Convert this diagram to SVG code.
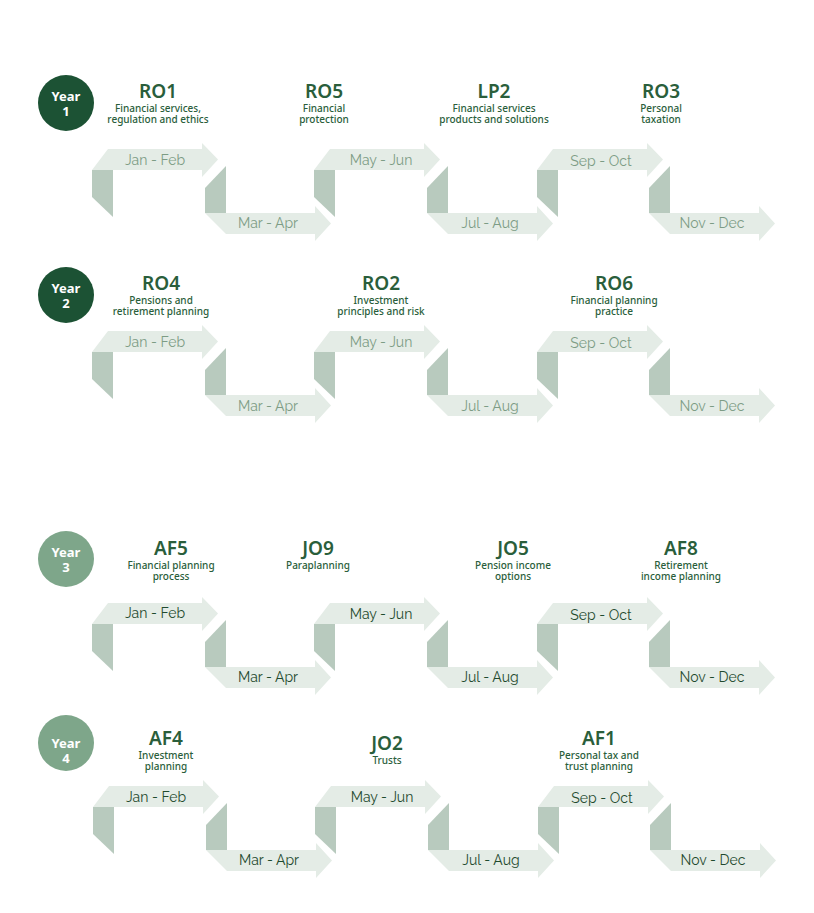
<svg xmlns="http://www.w3.org/2000/svg" xmlns:xlink="http://www.w3.org/1999/xlink" width="814" height="913" viewBox="0 0 814 913">
<style>
.band{fill:#e4ece6}.dark{fill:#b8cabe}
.lbl{font-family:Raleway,"Noto Sans","Liberation Sans",sans-serif;font-size:14px;text-anchor:middle}
.l1{fill:#7d9c85}.l2{fill:#1f4a2e}
.code{font-family:"Noto Sans","Liberation Sans",sans-serif;font-size:19px;font-weight:600;fill:#2a5e3b;text-anchor:middle}
.sub{font-family:"Noto Sans","Liberation Sans",sans-serif;font-size:10px;font-weight:500;fill:#2a5e3b;text-anchor:middle}
.yr{font-family:"Noto Sans","Liberation Sans",sans-serif;font-size:13px;font-weight:700;fill:#fff;text-anchor:middle}
</style>
<defs>
<g id="up"><polygon class="band" points="0,21 16,0 110,0 110,-6 126,10.5 110,28 110,21"/><polygon class="dark" points="0,21 21,21 21,68 0,48"/></g>
<g id="dn"><polygon class="dark" points="0,-25 21,-47 21,0 0,0"/><polygon class="band" points="0,0 110,0 110,-7 126,10.5 110,28 110,21 21,21"/></g>
</defs>
<g id="connectors">
<use href="#up" x="92" y="149"/><use href="#dn" x="205" y="213"/><use href="#up" x="314" y="149"/><use href="#dn" x="427" y="213"/><use href="#up" x="537" y="149"/><use href="#dn" x="649" y="213"/>
<use href="#up" x="92" y="331"/><use href="#dn" x="205" y="395"/><use href="#up" x="314" y="331"/><use href="#dn" x="427" y="395"/><use href="#up" x="537" y="331"/><use href="#dn" x="649" y="395"/>
<use href="#up" x="92" y="603"/><use href="#dn" x="205" y="667"/><use href="#up" x="314" y="603"/><use href="#dn" x="427" y="667"/><use href="#up" x="537" y="603"/><use href="#dn" x="649" y="667"/>
<use href="#up" x="93" y="786"/><use href="#dn" x="206" y="850"/><use href="#up" x="315" y="786"/><use href="#dn" x="428" y="850"/><use href="#up" x="538" y="786"/><use href="#dn" x="650" y="850"/>
</g>
<g id="labels">
<g class="lbl l1">
<text x="155" y="165">Jan - Feb</text><text x="268" y="228">Mar - Apr</text><text x="381" y="165">May - Jun</text><text x="490" y="228">Jul - Aug</text><text x="601" y="166">Sep - Oct</text><text x="712" y="228">Nov - Dec</text>
<text x="155" y="347">Jan - Feb</text><text x="268" y="411">Mar - Apr</text><text x="381" y="347">May - Jun</text><text x="490" y="411">Jul - Aug</text><text x="601" y="348">Sep - Oct</text><text x="712" y="411">Nov - Dec</text>
</g>
<g class="lbl l2">
<text x="155" y="618">Jan - Feb</text><text x="268" y="682">Mar - Apr</text><text x="381" y="619">May - Jun</text><text x="490" y="682">Jul - Aug</text><text x="601" y="620">Sep - Oct</text><text x="712" y="682">Nov - Dec</text>
<text x="156" y="802">Jan - Feb</text><text x="269" y="865">Mar - Apr</text><text x="382" y="802">May - Jun</text><text x="491" y="865">Jul - Aug</text><text x="602" y="803">Sep - Oct</text><text x="713" y="865">Nov - Dec</text>
</g>
</g>
<g id="year1"><circle cx="66" cy="103" r="28" fill="#1c5234"/><text class="yr" x="66" y="101">Year</text><text class="yr" x="66" y="116" font-size="11">1</text></g>
<g id="year2"><circle cx="66" cy="295" r="28" fill="#1c5234"/><text class="yr" x="66" y="293">Year</text><text class="yr" x="66" y="308">2</text></g>
<g id="year3"><circle cx="66" cy="559" r="28" fill="#7ea68a"/><text class="yr" x="66" y="557">Year</text><text class="yr" x="66" y="572">3</text></g>
<g id="year4"><circle cx="66" cy="743" r="28" fill="#7ea68a"/><text class="yr" x="66" y="748">Year</text><text class="yr" x="66" y="763">4</text></g>
<g id="RO1"><text class="code" x="158" y="98">RO1</text><text class="sub" x="158" y="112">Financial services,</text><text class="sub" x="158" y="123">regulation and ethics</text></g>
<g id="RO5"><text class="code" x="324" y="98">RO5</text><text class="sub" x="324" y="112">Financial</text><text class="sub" x="324" y="123">protection</text></g>
<g id="LP2"><text class="code" x="494" y="98">LP2</text><text class="sub" x="494" y="112">Financial services</text><text class="sub" x="494" y="123">products and solutions</text></g>
<g id="RO3"><text class="code" x="661" y="98">RO3</text><text class="sub" x="661" y="112">Personal</text><text class="sub" x="661" y="123">taxation</text></g>
<g id="RO4"><text class="code" x="161" y="290">RO4</text><text class="sub" x="161" y="304">Pensions and</text><text class="sub" x="161" y="315">retirement planning</text></g>
<g id="RO2"><text class="code" x="381" y="290">RO2</text><text class="sub" x="381" y="304">Investment</text><text class="sub" x="381" y="315">principles and risk</text></g>
<g id="RO6"><text class="code" x="614" y="290">RO6</text><text class="sub" x="614" y="304">Financial planning</text><text class="sub" x="614" y="315">practice</text></g>
<g id="AF5"><text class="code" x="171" y="555">AF5</text><text class="sub" x="171" y="569">Financial planning</text><text class="sub" x="171" y="580">process</text></g>
<g id="JO9"><text class="code" x="318" y="555">JO9</text><text class="sub" x="318" y="569">Paraplanning</text></g>
<g id="JO5"><text class="code" x="513" y="555">JO5</text><text class="sub" x="513" y="569">Pension income</text><text class="sub" x="513" y="580">options</text></g>
<g id="AF8"><text class="code" x="681" y="555">AF8</text><text class="sub" x="681" y="569">Retirement</text><text class="sub" x="681" y="580">income planning</text></g>
<g id="AF4"><text class="code" x="166" y="745">AF4</text><text class="sub" x="166" y="759">Investment</text><text class="sub" x="166" y="770">planning</text></g>
<g id="JO2"><text class="code" x="387" y="750">JO2</text><text class="sub" x="387" y="764">Trusts</text></g>
<g id="AF1"><text class="code" x="599" y="745">AF1</text><text class="sub" x="599" y="759">Personal tax and</text><text class="sub" x="599" y="770">trust planning</text></g>
</svg>
